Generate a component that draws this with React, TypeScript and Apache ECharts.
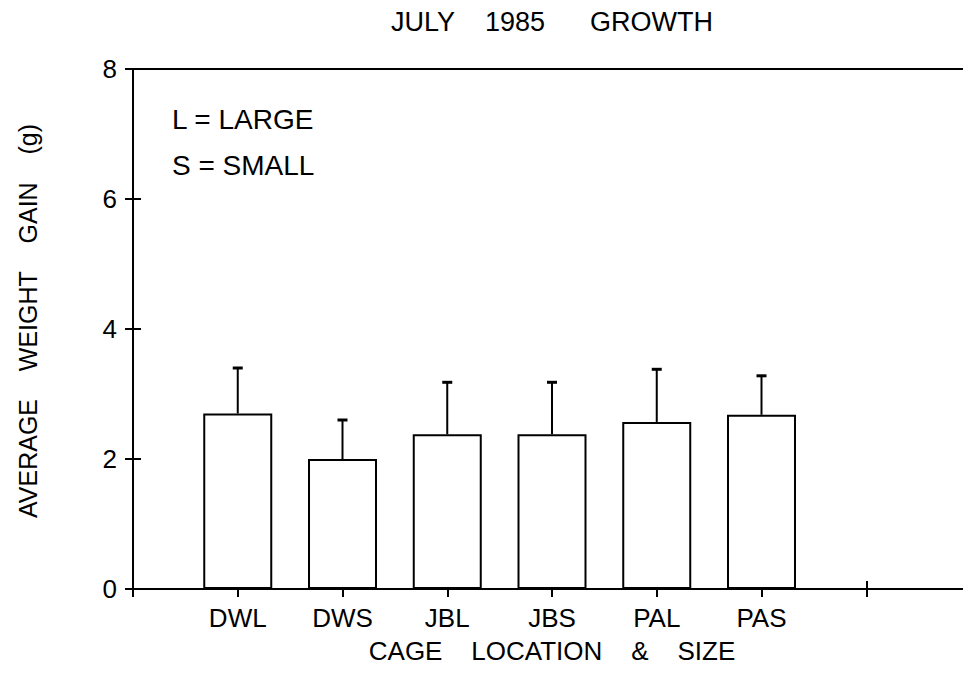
import React, { useEffect, useRef } from "react";
import * as echarts from "echarts";

const categories = ["DWL", "DWS", "JBL", "JBS", "PAL", "PAS"];
const positions = [1, 2, 3, 4, 5, 6];
const means = [2.7, 2.0, 2.38, 2.38, 2.57, 2.68];
const upper = [3.4, 2.6, 3.18, 3.18, 3.38, 3.28];
const yTicks = [0, 2, 4, 6, 8];

const FONT = "'Liberation Sans', Arial, Helvetica, sans-serif";
const NB = "\u00A0";

export default function App() {
  const ref = useRef<HTMLDivElement>(null);
  useEffect(() => {
    if (!ref.current) return;
    const chart = echarts.init(ref.current, null, { renderer: "svg" });
    const barData = positions.map((p, i) => [p, means[i]]);
    const errData = positions.map((p, i) => [p, means[i], upper[i]]);
    const axisLine = { show: true, lineStyle: { color: "#000", width: 2 } };
    chart.setOption({
      animation: false,
      backgroundColor: "#fff",
      textStyle: { fontFamily: FONT, color: "#000" },
      title: {
        text: "JULY" + NB.repeat(4) + "1985" + NB.repeat(6) + "GROWTH",
        left: 547,
        top: 3,
        textAlign: "center",
        textStyle: { fontFamily: FONT, fontSize: 27, fontWeight: "normal", color: "#000" },
      },
      grid: {
        left: 133,
        right: 9,
        top: 69,
        bottom: 105,
        show: false,
      },
      xAxis: [
        {
          type: "value",
          min: 0,
          max: 8,
          interval: 1,
          position: "bottom",
          axisLine,
          axisTick: { show: true, inside: false, length: 8, lineStyle: { color: "#000", width: 2 } },
          splitLine: { show: false },
          axisLabel: {
            margin: 16,
            fontSize: 26,
            fontFamily: FONT,
            color: "#000",
            formatter: (v: number) => {
              const idx = positions.indexOf(v);
              return idx >= 0 ? categories[idx] : "";
            },
          },
          name: "CAGE" + NB.repeat(4) + "LOCATION" + NB.repeat(4) + "&" + NB.repeat(4) + "SIZE",
          nameLocation: "middle",
          nameGap: 49,
          nameTextStyle: { fontSize: 26, fontFamily: FONT, color: "#000" },
        },
        {
          type: "value",
          min: 0,
          max: 8,
          interval: 1,
          position: "bottom",
          axisLine: { show: false },
          axisTick: { show: true, inside: true, length: 8, lineStyle: { color: "#000", width: 2 } },
          splitLine: { show: false },
          axisLabel: { show: false },
        },
        {
          type: "value",
          min: 0,
          max: 8,
          interval: 1,
          position: "top",
          axisLine,
          axisTick: { show: false },
          splitLine: { show: false },
          axisLabel: { show: false },
        },
      ],
      yAxis: [
        {
          type: "value",
          min: 0,
          max: 8,
          interval: 2,
          position: "left",
          axisLine,
          axisTick: { show: true, inside: false, length: 8, lineStyle: { color: "#000", width: 2 } },
          splitLine: { show: false },
          axisLabel: {
            margin: 16,
            fontSize: 26,
            fontFamily: FONT,
            color: "#000",
            formatter: (v: number) => (yTicks.includes(v) ? String(v) : ""),
          },
          name: "AVERAGE" + NB.repeat(4) + "WEIGHT" + NB.repeat(4) + "GAIN" + NB.repeat(4) + "(g)",
          nameLocation: "middle",
          nameGap: 93,
          nameTextStyle: { fontSize: 25, fontFamily: FONT, color: "#000", padding: [0, 0, 0, 16] },
        },
        {
          type: "value",
          min: 0,
          max: 8,
          interval: 2,
          position: "left",
          axisLine: { show: false },
          axisTick: { show: true, inside: true, length: 8, lineStyle: { color: "#000", width: 2 } },
          splitLine: { show: false },
          axisLabel: { show: false },
        },
      ],
      graphic: [
        {
          type: "text",
          left: 172,
          top: 105,
          style: { text: "L = LARGE", fontSize: 28, fontFamily: FONT, fill: "#000" },
        },
        {
          type: "text",
          left: 172,
          top: 151,
          style: { text: "S = SMALL", fontSize: 28, fontFamily: FONT, fill: "#000" },
        },
      ],
      series: [
        {
          type: "bar",
          data: barData,
          barWidth: 69,
          itemStyle: { color: "#fff", borderColor: "#000", borderWidth: 2 },
          z: 2,
        },
        {
          type: "custom",
          data: errData,
          encode: { x: 0, y: [1, 2] },
          z: 3,
          renderItem: (params: any, api: any) => {
            const x = api.value(0);
            const p1 = api.coord([x, api.value(1)]);
            const p2 = api.coord([x, api.value(2)]);
            return {
              type: "group",
              children: [
                {
                  type: "line",
                  shape: { x1: p1[0], y1: p1[1], x2: p2[0], y2: p2[1] },
                  style: { stroke: "#000", lineWidth: 2 },
                },
                {
                  type: "line",
                  shape: { x1: p2[0] - 5, y1: p2[1], x2: p2[0] + 5, y2: p2[1] },
                  style: { stroke: "#000", lineWidth: 3 },
                },
              ],
            };
          },
        },
      ],
    });
    return () => chart.dispose();
  }, []);
  return (
    <div
      style={{
        position: "fixed",
        left: 0,
        top: 0,
        width: 963,
        height: 694,
        overflow: "hidden",
        background: "#fff",
      }}
    >
      <div ref={ref} style={{ width: 980, height: 694 }} />
    </div>
  );
}
